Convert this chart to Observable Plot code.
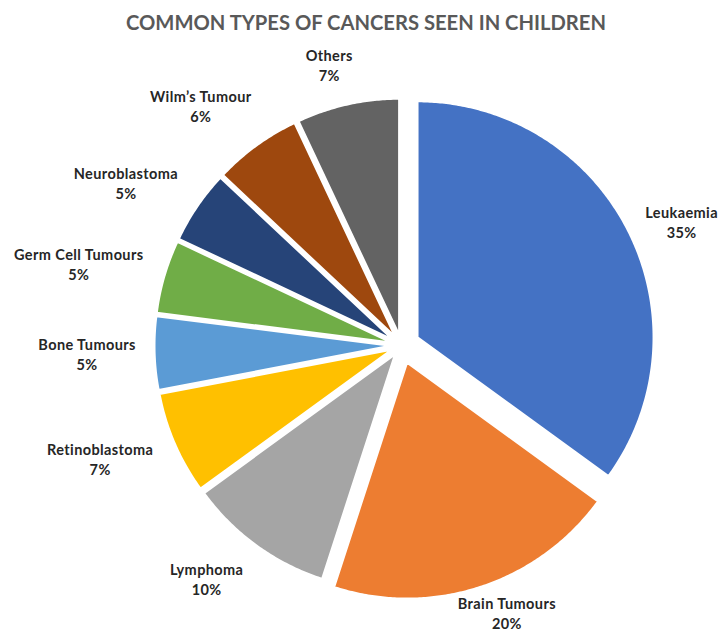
<!DOCTYPE html>
<html>
<head>
<meta charset="utf-8">
<script src="https://cdn.jsdelivr.net/npm/d3@7"></script>
<script src="https://cdn.jsdelivr.net/npm/@observablehq/plot@0.6"></script>
<style>
  body { margin: 0; background: #fff; }
  #chart { position: relative; width: 720px; height: 632px; }
  #title {
    position: absolute; top: 10px; left: 0; width: 732px;
    text-align: center; font: 700 20.2px Lato, "Open Sans", sans-serif;
    color: #595959;
  }
  #chart svg text { letter-spacing: 0.4px; }
</style>
</head>
<body>
<div id="chart"><div id="title">COMMON TYPES OF CANCERS SEEN IN CHILDREN</div></div>
<script>
// Share of childhood cancer cases by type (%), clockwise from 12 o'clock
const categories = [
  "Leukaemia", "Brain Tumours", "Lymphoma", "Retinoblastoma", "Bone Tumours",
  "Germ Cell Tumours", "Neuroblastoma", "Wilm’s Tumour", "Others"
];
const shares = [35, 20, 10, 7, 5, 5, 5, 6, 7];
const palette = [
  "#4472C4", "#ED7D31", "#A5A5A5", "#FFC000", "#5B9BD5",
  "#70AD47", "#264478", "#9E480E", "#636363"
];

// Chart frame and pie geometry (pixels): every slice is pulled out a little,
// the two largest ones further
const width = 720, height = 632;
const cx = 401, cy = 345, R = 236;
const pulledOut = new Set(["Leukaemia", "Brain Tumours"]);
const bigPull = 18 / R, smallPull = 11 / R;
const labelGap = 29;       // px between pie rim and label box
const labelSpread = 1.15;  // labels lean towards the sides (elliptical ring)
const fontSize = 14.5, lineStep = 20, letterSpacing = 0.4;
const fontFamily = 'Lato, "Open Sans", sans-serif';

const arcs = d3.pie().sort(null).value(d => d)(shares);

// Each slice becomes a closed polygon in unit-circle coordinates (y up)
const slices = arcs.map((a, i) => {
  const mid = (a.startAngle + a.endAngle) / 2;
  const pull = pulledOut.has(categories[i]) ? bigPull : smallPull;
  const ox = pull * Math.sin(mid), oy = pull * Math.cos(mid);
  const n = Math.max(4, Math.ceil((a.endAngle - a.startAngle) / (Math.PI / 360)));
  const pts = [{x: ox, y: oy}];
  for (let k = 0; k <= n; ++k) {
    const t = a.startAngle + (a.endAngle - a.startAngle) * k / n;
    pts.push({x: ox + Math.sin(t), y: oy + Math.cos(t)});
  }
  pts.push({x: ox, y: oy});
  return pts;
});

// Data labels sit outside the rim, in the direction of each slice's mid-angle,
// and are kept inside the chart frame
const ctx = document.createElement("canvas").getContext("2d");
ctx.font = `700 ${fontSize}px ${fontFamily}`;
const textWidth = s => ctx.measureText(s).width + letterSpacing * s.length;
const labels = arcs.map((a, i) => {
  const mid = (a.startAngle + a.endAngle) / 2;
  const name = categories[i], pct = `${shares[i]}%`;
  const w = Math.max(textWidth(name), textWidth(pct));
  const h = 2 * lineStep;
  let ux = labelSpread * Math.sin(mid), uy = Math.cos(mid);
  const len = Math.hypot(ux, uy);
  ux /= len; uy /= len;
  const d = R + labelGap + Math.abs(ux) * w / 2 + Math.abs(uy) * h / 2;
  // keep the text box inside the frame (pixel space), then back to unit space
  const halfW = w / 2 + 1, halfH = lineStep;
  const px = Math.min(width - halfW, Math.max(halfW, cx + d * ux));
  const py = Math.min(height - halfH, Math.max(halfH, cy - d * uy));
  return {x: (px - cx) / R, y: (cy - py) / R, text: `${name}\n${pct}`};
});

const chart = Plot.plot({
  width,
  height,
  margin: 0,
  style: {fontFamily, background: "white"},
  x: {domain: [-1, 1], range: [cx - R, cx + R], axis: null},
  y: {domain: [-1, 1], range: [cy + R, cy - R], axis: null},
  marks: [
    ...slices.map((pts, i) => Plot.line(pts, {
      x: "x", y: "y",
      fill: palette[i], stroke: "white", strokeWidth: 2, strokeLinejoin: "round"
    })),
    Plot.text(labels, {
      x: "x", y: "y", text: "text",
      fontSize, fontWeight: 700, fill: "#262626",
      lineHeight: lineStep / fontSize, lineAnchor: "middle", textAnchor: "middle"
    })
  ]
});
document.getElementById("chart").appendChild(chart);
</script>
</body>
</html>
